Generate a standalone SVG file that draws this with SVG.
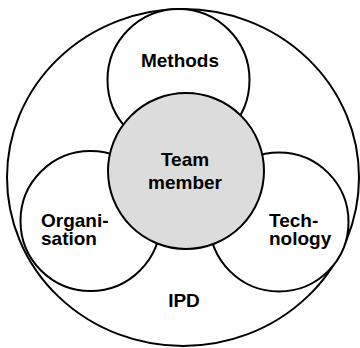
<svg xmlns="http://www.w3.org/2000/svg" width="360" height="348" viewBox="0 0 360 348">
<style>
.c{fill:#fff;stroke:#000;stroke-width:2}
.t{font-family:"Liberation Sans",Arial,sans-serif;font-weight:bold;font-size:19px;fill:#000}
.m{text-anchor:middle}
</style>
<rect width="360" height="348" fill="#fff"/>
<g id="ipd">
<ellipse class="c" cx="183" cy="177.5" rx="176" ry="168.5"/>
<text class="t m" x="184" y="307">IPD</text>
</g>
<g id="methods">
<circle class="c" cx="178.5" cy="80" r="71"/>
<text class="t m" x="180" y="67">Methods</text>
</g>
<g id="organisation">
<circle class="c" cx="90.5" cy="221" r="70"/>
<text class="t" x="41" y="227">Organi-</text>
<text class="t" x="41" y="245">sation</text>
</g>
<g id="technology">
<circle class="c" cx="279" cy="222" r="69.5"/>
<text class="t" x="269" y="227">Tech-</text>
<text class="t" x="269" y="245">nology</text>
</g>
<g id="team">
<circle class="c" cx="186" cy="171" r="78" style="fill:#dcdcdc"/>
<text class="t m" x="185" y="166">Team</text>
<text class="t m" x="185" y="189">member</text>
</g>
<g id="connectors"/>
</svg>
